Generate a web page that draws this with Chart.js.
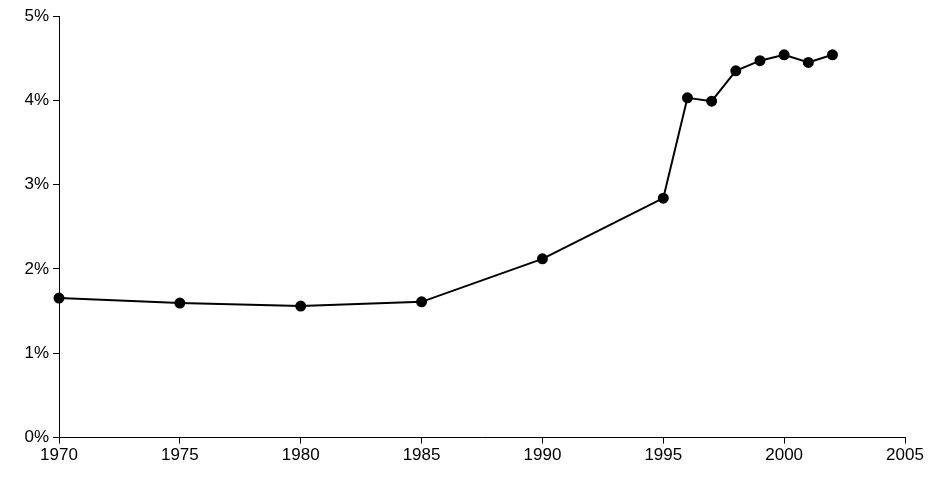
<!DOCTYPE html>
<html><head><meta charset="utf-8">
<script src="https://cdn.jsdelivr.net/npm/chart.js"></script>
<style>html,body{margin:0;padding:0;background:#fff}#w{width:933px;height:481px}</style>
</head><body><div id="w"><canvas id="c"></canvas></div>
<script>
const years = [1970,1975,1980,1985,1990,1995,1996,1997,1998,1999,2000,2001,2002];
const values = [1.655,1.595,1.56,1.61,2.12,2.84,4.03,3.99,4.35,4.47,4.54,4.45,4.54];
const xTicks = [1970,1975,1980,1985,1990,1995,2000,2005];
const yTicks = [0,1,2,3,4,5];
new Chart(document.getElementById('c'), {
  type:'line',
  data:{datasets:[{data:years.map((y,i)=>({x:y,y:values[i]})),clip:false,borderColor:'#000',backgroundColor:'#000',borderWidth:2,pointRadius:4.5,pointBackgroundColor:'#000',tension:0}]},
  options:{responsive:true,maintainAspectRatio:false,animation:false,
    layout:{padding:{top:16,right:28,bottom:13,left:0}},
    plugins:{legend:{display:false},tooltip:{enabled:false}},
    scales:{
      x:{type:'linear',min:1970,max:2005,
        afterBuildTicks:a=>{a.ticks=xTicks.map(v=>({value:v}));},
        grid:{display:true,drawOnChartArea:false,drawTicks:true,tickLength:6,color:'#000'},
        border:{color:'#000',width:1},
        ticks:{color:'#000',font:{family:'Liberation Sans',size:17},maxRotation:0,padding:2,callback:v=>String(v)}},
      y:{min:0,max:5,
        afterBuildTicks:a=>{a.ticks=yTicks.map(v=>({value:v}));},
        afterFit:a=>{a.width=59;},
        grid:{display:true,drawOnChartArea:false,drawTicks:true,tickLength:6,color:'#000'},
        border:{color:'#000',width:1},
        ticks:{color:'#000',font:{family:'Liberation Sans',size:17},padding:4,callback:v=>v+'%'}}
    }}
});
</script></body></html>
